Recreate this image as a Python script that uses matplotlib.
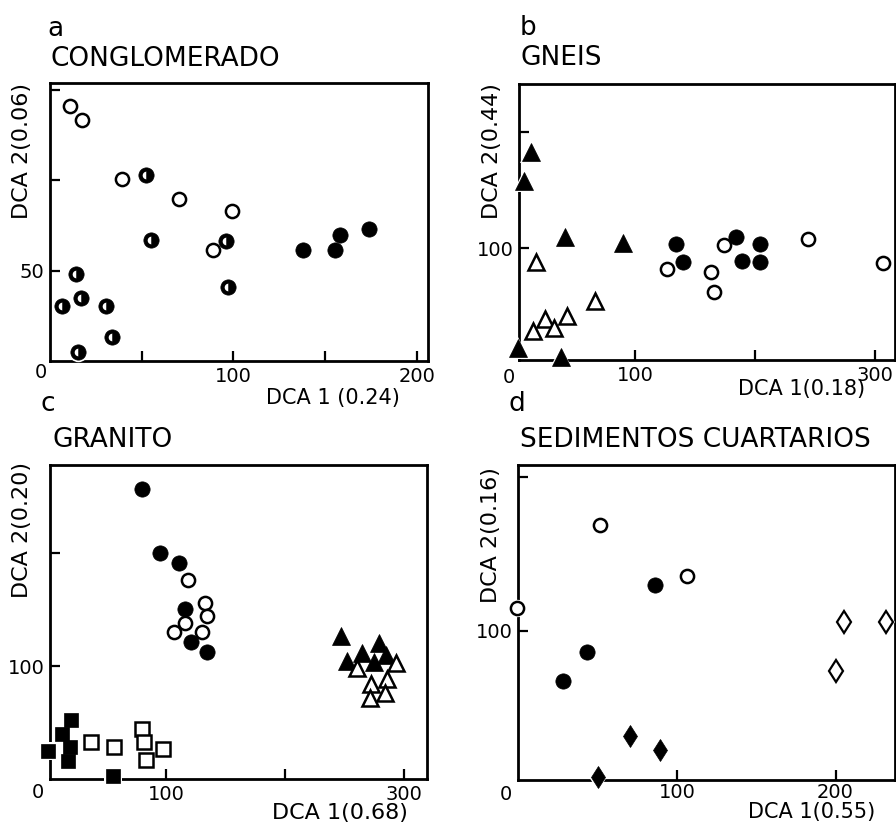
import matplotlib.pyplot as plt

W, H = 896, 825

# ---- panel a: CONGLOMERADO ----
a_open_x = [10.7, 17.6, 39.5, 70.4, 99.0, 88.7]
a_open_y = [141.0, 133.5, 101.0, 90.0, 83.0, 61.7]
a_half_x = [14.0, 6.7, 17.1, 30.4, 33.6, 15.5, 52.2, 54.9, 95.8, 97.1]
a_half_y = [48.3, 30.2, 34.8, 30.2, 13.1, 4.8, 102.8, 67.2, 66.3, 40.9]
a_fill_x = [138.0, 155.3, 158.2, 174.0]
a_fill_y = [61.3, 61.3, 70.0, 73.1]

# ---- panel b: GNEIS ----
b_ftri_x = [13.3, 7.8, 41.7, 89.7, 2.8, 38.3]
b_ftri_y = [182.5, 157.5, 109.5, 104.3, 13.8, 6.6]
b_otri_x = [17.2, 66.7, 15.3, 25.0, 32.8, 43.0]
b_otri_y = [88.5, 54.6, 28.7, 39.0, 31.0, 42.0]
b_fill_x = [134.0, 140.0, 184.0, 189.0, 204.0, 204.0]
b_fill_y = [103.4, 88.5, 109.5, 89.0, 103.4, 88.5]
b_open_x = [126.4, 163.3, 165.8, 174.0, 244.0, 307.0]
b_open_y = [81.9, 79.9, 62.0, 102.9, 108.0, 87.0]

# ---- panel c: GRANITO ----
c_fill_x = [79.5, 94.7, 110.7, 115.7, 120.8, 134.0]
c_fill_y = [256.5, 200.0, 191.0, 150.6, 121.8, 112.4]
c_open_x = [118.0, 132.6, 134.0, 115.7, 106.7, 129.8]
c_open_y = [176.5, 155.9, 144.7, 138.2, 130.6, 130.0]
c_ftri_x = [247.0, 252.0, 264.6, 278.7, 274.4, 285.0]
c_ftri_y = [126.5, 105.0, 111.8, 121.0, 103.5, 110.0]
c_otri_x = [260.4, 293.5, 285.7, 272.5, 284.3, 271.0]
c_otri_y = [98.2, 103.0, 88.8, 84.4, 76.5, 71.8]
c_fsq_x = [19.4, 11.8, 0.0, 18.8, 17.4, 55.3]
c_fsq_y = [53.0, 40.3, 25.6, 28.5, 16.8, 3.5]
c_osq_x = [36.5, 56.2, 79.2, 81.5, 82.6, 97.5]
c_osq_y = [33.0, 28.5, 44.7, 33.5, 17.6, 27.0]

# ---- panel d: SEDIMENTOS CUARTARIOS ----
d_open_x = [-1.5, 51.3, 106.3]
d_open_y = [114.5, 168.6, 135.3]
d_fill_x = [27.6, 43.0, 86.0]
d_fill_y = [67.5, 86.0, 129.7]
d_fdia_x = [69.8, 88.8, 49.8]
d_fdia_y = [31.4, 22.7, 4.8]
d_odia_x = [200.2, 205.3, 231.9]
d_odia_y = [74.0, 105.8, 105.8]

STYLES = {
    "open_circle": dict(marker="o", ms=9.5, mfc="white", mec="black", mew=1.8),
    "fill_circle": dict(marker="o", ms=11, mfc="black", mec="black", mew=0.5),
    "fill_tri": dict(marker="^", ms=12.5, mfc="black", mec="black", mew=0.5),
    "open_tri": dict(marker="^", ms=12, mfc="white", mec="black", mew=1.8),
    "fill_sq": dict(marker="s", ms=10.5, mfc="black", mec="black", mew=0.5),
    "open_sq": dict(marker="s", ms=9.5, mfc="white", mec="black", mew=1.8),
    "fill_dia": dict(marker="d", ms=11.5, mfc="black", mec="black", mew=0.5),
    "open_dia": dict(marker="d", ms=11.5, mfc="white", mec="black", mew=1.6),
}


def px_text(fig, x, y, s, **kw):
    fig.text(x / W, 1 - y / H, s, **kw)


def make_axes(fig, left, top, right, bottom, xlim, ylim, xpad=4):
    ax = fig.add_axes([left / W, 1 - bottom / H, (right - left) / W, (bottom - top) / H])
    ax.set_xlim(*xlim)
    ax.set_ylim(*ylim)
    for sp in ax.spines.values():
        sp.set_linewidth(2.0)
    ax.tick_params(direction="in", length=7, width=1.6, labelsize=14, pad=4)
    ax.tick_params(axis="x", pad=xpad)
    return ax


def scatter(ax, x, y, kind):
    st = dict(STYLES[kind])
    # white knock-out under each symbol, as in the original drawing
    ax.plot(x, y, ls="none", marker=st["marker"], ms=st["ms"] + 3, mfc="white",
            mec="white", mew=0, zorder=3, clip_on=False)
    ax.plot(x, y, ls="none", zorder=4, clip_on=False, **st)


def half_circle(ax, x, y):
    scatter(ax, x, y, "fill_circle")
    ax.plot(x, y, ls="none", marker="o", ms=5.5, fillstyle="left", mfc="white",
            mfcalt="black", mec="none", zorder=5, clip_on=False)


plt.rcParams["font.family"] = "DejaVu Sans"
fig = plt.figure(figsize=(W / 100, H / 100), dpi=100)

# panel a
ax = make_axes(fig, 50, 83, 428, 361, (0, 206), (0, 154))
ax.set_xticks([50, 100, 150, 200])
ax.set_xticklabels(["", "100", "", "200"])
ax.set_yticks([50, 100, 150])
ax.set_yticklabels(["50", "", ""])
scatter(ax, a_open_x, a_open_y, "open_circle")
half_circle(ax, a_half_x, a_half_y)
scatter(ax, a_fill_x, a_fill_y, "fill_circle")
px_text(fig, 40.7, 372, "0", fontsize=14, ha="center", va="center")
px_text(fig, 47, 36, "a", fontsize=19, va="baseline")
px_text(fig, 50, 66.5, "CONGLOMERADO", fontsize=19, va="baseline")
px_text(fig, 22, 83, "DCA 2(0.06)", fontsize=16, rotation=90, ha="center", va="top")
px_text(fig, 400, 398, "DCA 1 (0.24)", fontsize=15, ha="right", va="center")

# panel b
ax = make_axes(fig, 519, 84, 895, 360, (3.3, 316.7), (3.7, 241.4))
ax.set_xticks([100, 200, 300])
ax.set_xticklabels(["100", "", "300"])
ax.set_yticks([100, 200])
ax.set_yticklabels(["100", ""])
scatter(ax, b_ftri_x, b_ftri_y, "fill_tri")
scatter(ax, b_otri_x, b_otri_y, "open_tri")
scatter(ax, b_fill_x, b_fill_y, "fill_circle")
scatter(ax, b_open_x, b_open_y, "open_circle")
px_text(fig, 509, 377, "0", fontsize=14, ha="center", va="center")
px_text(fig, 520, 35, "b", fontsize=19, va="baseline")
px_text(fig, 520, 65, "GNEIS", fontsize=19, va="baseline")
px_text(fig, 492, 83, "DCA 2(0.44)", fontsize=16, rotation=90, ha="center", va="top")
px_text(fig, 865, 389, "DCA 1(0.18)", fontsize=15, ha="right", va="center")

# panel c
ax = make_axes(fig, 50, 465, 427, 779, (2, 319.4), (0.6, 277.6))
ax.set_xticks([100, 200, 300])
ax.set_xticklabels(["100", "", "300"])
ax.set_yticks([100, 200])
ax.set_yticklabels(["100", ""])
scatter(ax, c_ftri_x, c_ftri_y, "fill_tri")
scatter(ax, c_otri_x, c_otri_y, "open_tri")
scatter(ax, c_fill_x, c_fill_y, "fill_circle")
scatter(ax, c_open_x, c_open_y, "open_circle")
scatter(ax, c_fsq_x, c_fsq_y, "fill_sq")
scatter(ax, c_osq_x, c_osq_y, "open_sq")
px_text(fig, 38, 792, "0", fontsize=14, ha="center", va="center")
px_text(fig, 40, 411, "c", fontsize=19, va="baseline")
px_text(fig, 52, 447, "GRANITO", fontsize=19, va="baseline")
px_text(fig, 22, 462, "DCA 2(0.20)", fontsize=16, rotation=90, ha="center", va="top")
px_text(fig, 408, 813, "DCA 1(0.68)", fontsize=16, ha="right", va="center")

# panel d
ax = make_axes(fig, 518, 465, 895, 780, (-0.8, 237.6), (3, 207.6), xpad=2.5)
ax.set_xticks([100, 200])
ax.set_xticklabels(["100", "200"])
ax.set_yticks([100, 200])
ax.set_yticklabels(["100", ""])
scatter(ax, d_open_x, d_open_y, "open_circle")
scatter(ax, d_fill_x, d_fill_y, "fill_circle")
scatter(ax, d_fdia_x, d_fdia_y, "fill_dia")
scatter(ax, d_odia_x, d_odia_y, "open_dia")
px_text(fig, 506, 795, "0", fontsize=14, ha="center", va="center")
px_text(fig, 508, 411, "d", fontsize=19, va="baseline")
px_text(fig, 520, 447, "SEDIMENTOS CUARTARIOS", fontsize=19, va="baseline")
px_text(fig, 491, 467, "DCA 2(0.16)", fontsize=16, rotation=90, ha="center", va="top")
px_text(fig, 875, 812, "DCA 1(0.55)", fontsize=15, ha="right", va="center")

fig.savefig("out.png", dpi=100)
